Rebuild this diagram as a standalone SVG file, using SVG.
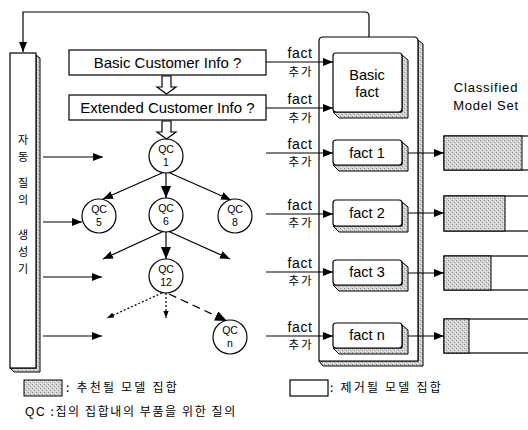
<svg xmlns="http://www.w3.org/2000/svg" width="528" height="430" viewBox="0 0 528 430">
<style>
.ln{stroke:#000;stroke-width:1.2;fill:none}
.bx{fill:#fff;stroke:#000;stroke-width:1.2}
.sh{fill:url(#stip);stroke:#000;stroke-width:1}
.t{font-family:"Liberation Sans",Arial,sans-serif;fill:#000}
.k{font-family:"Noto Sans CJK KR",sans-serif;fill:#000}
.qc{font-family:"Liberation Sans",Arial,sans-serif;font-size:10.5px;text-anchor:middle;fill:#000}
.c{fill:#fff;stroke:#000;stroke-width:1.2}
.bar{font-family:"Noto Sans CJK KR",sans-serif;font-size:11px;text-anchor:middle;fill:#000}
</style>
<defs>
<pattern id="stip" width="4" height="4" patternUnits="userSpaceOnUse">
<rect width="4" height="4" fill="#d2d2d2"/>
<rect x="0" y="0" width="1" height="1" fill="#8a8a8a"/>
<rect x="2" y="2" width="1" height="1" fill="#9a9a9a"/>
<rect x="1" y="3" width="1" height="1" fill="#f4f4f4"/>
<rect x="3" y="1" width="1" height="1" fill="#f0f0f0"/>
</pattern>
<marker id="ah" viewBox="0 0 10 8" refX="10" refY="4" markerWidth="10" markerHeight="8" markerUnits="userSpaceOnUse" orient="auto"><path d="M0,0 L10,4 L0,8 Z" fill="#000"/></marker>
<marker id="ahb" viewBox="0 0 12 10" refX="12" refY="5" markerWidth="12" markerHeight="10" markerUnits="userSpaceOnUse" orient="auto"><path d="M0,0 L12,5 L0,10 Z" fill="#000"/></marker>
<marker id="ahs" viewBox="0 0 8 6" refX="8" refY="3" markerWidth="7" markerHeight="6" markerUnits="userSpaceOnUse" orient="auto"><path d="M0,0 L8,3 L0,6 Z" fill="#000"/></marker>
</defs>

<!-- left bar: 자동 질의 생성기 -->
<g id="generator">
<path class="sh" d="M36,55 L40,58 L40,372 L14,372 L10,368 L36,368 Z"/>
<rect class="bx" x="10" y="53" width="26" height="315"/>
<text class="bar" x="23" y="144">자</text>
<text class="bar" x="23" y="161">동</text>
<text class="bar" x="23" y="187">질</text>
<text class="bar" x="23" y="204">의</text>
<text class="bar" x="23" y="239">생</text>
<text class="bar" x="23" y="256">성</text>
<text class="bar" x="23" y="273">기</text>
</g>

<!-- container of facts -->
<g id="fact-container">
<path class="sh" d="M418,40 L423,44 L423,366 L323,366 L319,361 L418,361 Z"/>
<path class="bx" d="M319,41 Q319,37 323,37 L414,37 Q418,37 418,41 L418,361 L319,361 Z"/>
</g>

<g id="basic-info">
<rect class="bx" x="69" y="50" width="197" height="25"/>
<text class="t" font-size="15" text-anchor="middle" x="167.5" y="68">Basic Customer Info ?</text>
</g>
<g id="extended-info">
<rect class="bx" x="69" y="95" width="197" height="25"/>
<text class="t" font-size="15" text-anchor="middle" x="167.5" y="113">Extended Customer Info ?</text>
</g>

<g id="basic-fact">
<path class="sh" d="M402,55 L408,60 L408,118 L339,118 L333,112 L402,112 Z"/>
<rect class="bx" x="333" y="53" width="69" height="59" rx="3"/>
<text class="t" font-size="14.5" text-anchor="middle" x="367" y="80">Basic</text>
<text class="t" font-size="14.5" text-anchor="middle" x="367" y="97">fact</text>
</g>
<g id="fact1">
<path class="sh" d="M402,142 L408,147 L408,171 L339,171 L333,165 L402,165 Z"/>
<rect class="bx" x="333" y="140" width="69" height="25" rx="3"/>
<text class="t" font-size="14.5" text-anchor="middle" x="367" y="158">fact 1</text>
</g>
<g id="fact2">
<path class="sh" d="M402,202 L408,207 L408,232 L339,232 L333,226 L402,226 Z"/>
<rect class="bx" x="333" y="200" width="69" height="26" rx="3"/>
<text class="t" font-size="14.5" text-anchor="middle" x="367" y="218">fact 2</text>
</g>
<g id="fact3">
<path class="sh" d="M402,262 L408,267 L408,291 L339,291 L333,285 L402,285 Z"/>
<rect class="bx" x="333" y="260" width="69" height="25" rx="3"/>
<text class="t" font-size="14.5" text-anchor="middle" x="367" y="277">fact 3</text>
</g>
<g id="factn">
<path class="sh" d="M402,325 L408,330 L408,354 L339,354 L333,348 L402,348 Z"/>
<rect class="bx" x="333" y="323" width="69" height="25" rx="3"/>
<text class="t" font-size="14.5" text-anchor="middle" x="367" y="340">fact n</text>
</g>

<!-- QC nodes -->
<g id="qc1"><circle class="c" cx="166" cy="156" r="17"/><text class="qc" x="166" y="153">QC</text><text class="qc" x="166" y="166">1</text></g>
<g id="qc5"><circle class="c" cx="99" cy="216" r="17"/><text class="qc" x="99" y="213">QC</text><text class="qc" x="99" y="226">5</text></g>
<g id="qc6"><circle class="c" cx="166" cy="215" r="17"/><text class="qc" x="166" y="212">QC</text><text class="qc" x="166" y="225">6</text></g>
<g id="qc8"><circle class="c" cx="235" cy="216" r="17"/><text class="qc" x="235" y="213">QC</text><text class="qc" x="235" y="226">8</text></g>
<g id="qc12"><circle class="c" cx="166" cy="276" r="17"/><text class="qc" x="166" y="273">QC</text><text class="qc" x="166" y="286">12</text></g>
<g id="qcn"><circle class="c" cx="230" cy="337" r="17"/><text class="qc" x="230" y="334">QC</text><text class="qc" x="230" y="347">n</text></g>

<!-- model bars -->
<g id="model-sets">
<text class="t" font-size="13" text-anchor="middle" x="486" y="92" letter-spacing="0.8">Classified</text>
<text class="t" font-size="13" text-anchor="middle" x="486" y="110" letter-spacing="0.8">Model Set</text>
<rect class="bx" x="444" y="136" width="100" height="34"/>
<rect class="sh" x="444" y="136" width="78" height="34" stroke-width="1.2"/>
<rect class="bx" x="444" y="196" width="100" height="35"/>
<rect class="sh" x="444" y="196" width="61" height="35" stroke-width="1.2"/>
<rect class="bx" x="444" y="256" width="100" height="34"/>
<rect class="sh" x="444" y="256" width="47" height="34" stroke-width="1.2"/>
<rect class="bx" x="444" y="319" width="100" height="34"/>
<rect class="sh" x="444" y="319" width="25" height="34" stroke-width="1.2"/>
</g>

<!-- connectors -->
<g id="connectors">
<path class="ln" d="M369,37 L369,16 Q369,12 365,12 L23,12 L23,52" marker-end="url(#ah)"/>
<!-- hollow arrows -->
<path class="bx" d="M162,76 L171,76 L171,87 L176,87 L166.5,94 L157,87 L162,87 Z"/>
<path class="bx" d="M162,121 L171,121 L171,132 L176,132 L166.5,139 L157,132 L162,132 Z"/>
<!-- fact additions -->
<line class="ln" x1="266" y1="62" x2="333" y2="62" marker-end="url(#ah)"/>
<line class="ln" x1="266" y1="108" x2="333" y2="108" marker-end="url(#ah)"/>
<line class="ln" x1="266" y1="153" x2="333" y2="153" marker-end="url(#ah)"/>
<line class="ln" x1="266" y1="214" x2="333" y2="214" marker-end="url(#ah)"/>
<line class="ln" x1="266" y1="272" x2="333" y2="272" marker-end="url(#ah)"/>
<line class="ln" x1="266" y1="336" x2="333" y2="336" marker-end="url(#ah)"/>
<g class="t" font-size="14" text-anchor="middle" letter-spacing="0.6">
<text x="300" y="58">fact</text>
<text x="300" y="104">fact</text>
<text x="300" y="149">fact</text>
<text x="300" y="210">fact</text>
<text x="300" y="268">fact</text>
<text x="300" y="332">fact</text>
</g>
<g class="k" font-size="11.5" text-anchor="middle" letter-spacing="2">
<text x="301" y="76">추가</text>
<text x="301" y="122">추가</text>
<text x="301" y="166">추가</text>
<text x="301" y="227">추가</text>
<text x="301" y="285">추가</text>
<text x="301" y="349">추가</text>
</g>
<!-- facts to model sets -->
<line class="ln" x1="408" y1="153" x2="444" y2="153" marker-end="url(#ah)"/>
<line class="ln" x1="408" y1="213" x2="444" y2="213" marker-end="url(#ah)"/>
<line class="ln" x1="408" y1="273" x2="444" y2="273" marker-end="url(#ah)"/>
<line class="ln" x1="408" y1="336" x2="444" y2="336" marker-end="url(#ah)"/>
<!-- generator arrows -->
<line class="ln" x1="43" y1="157" x2="103" y2="157" marker-end="url(#ah)"/>
<line class="ln" x1="43" y1="222" x2="82" y2="222" marker-end="url(#ah)"/>
<line class="ln" x1="43" y1="277" x2="102" y2="277" marker-end="url(#ah)"/>
<line class="ln" x1="43" y1="336" x2="102" y2="336" marker-end="url(#ah)"/>
<!-- tree -->
<line class="ln" stroke-width="1.5" x1="162" y1="173" x2="103" y2="199" marker-end="url(#ah)"/>
<line class="ln" stroke-width="2.5" x1="166" y1="173" x2="166" y2="198" marker-end="url(#ahb)"/>
<line class="ln" stroke-width="1.2" x1="170" y1="173" x2="231" y2="200" marker-end="url(#ah)"/>
<line class="ln" stroke-width="1.5" x1="162" y1="232" x2="103" y2="259" marker-end="url(#ah)"/>
<line class="ln" stroke-width="2.5" x1="166" y1="232" x2="166" y2="259" marker-end="url(#ahb)"/>
<line class="ln" stroke-width="1.2" x1="170" y1="232" x2="230" y2="259" marker-end="url(#ah)"/>
<line class="ln" stroke-width="1" stroke-dasharray="2,2" x1="162" y1="293" x2="107" y2="318" marker-end="url(#ahs)"/>
<line class="ln" stroke-width="1" stroke-dasharray="2,2" x1="166" y1="293" x2="166" y2="318" marker-end="url(#ahs)"/>
<line class="ln" stroke-width="2.5" stroke-dasharray="8,5" x1="169" y1="294" x2="227" y2="321" marker-end="url(#ahb)"/>
</g>

<!-- legend -->
<g id="legend">
<rect class="sh" x="24" y="380" width="38" height="16" stroke-width="1.2"/>
<text class="k" font-size="12" x="66" y="392" letter-spacing="2.2">: 추천될 모델 집합</text>
<rect class="bx" x="290" y="380" width="38" height="16"/>
<text class="k" font-size="12" x="330" y="392" letter-spacing="2.2">: 제거될 모델 집합</text>
<text class="k" font-size="12" x="25" y="416" letter-spacing="1.6"><tspan font-family="Liberation Sans, sans-serif">QC</tspan> :집의 집합내의 부품을 위한 질의</text>
</g>
</svg>
